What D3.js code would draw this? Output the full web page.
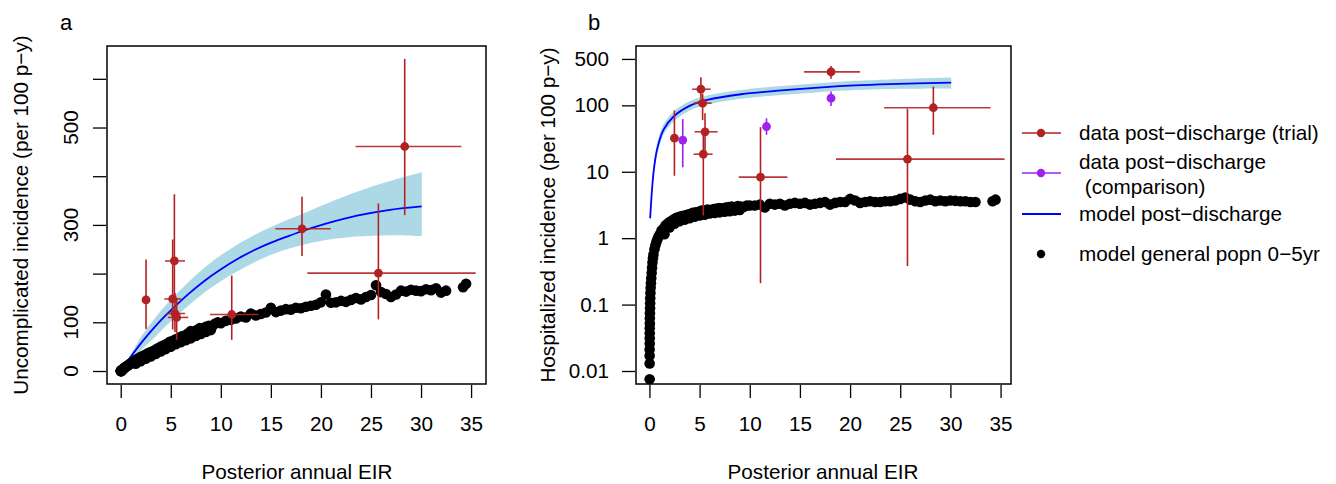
<!DOCTYPE html>
<html>
<head>
<meta charset="utf-8">
<script src="https://cdn.jsdelivr.net/npm/d3@7"></script>
<style>
  body { margin: 0; background: #fff; }
  svg { display: block; font-family: 'Liberation Sans', Arial, sans-serif; }
</style>
</head>
<body>
<div id="chart"></div>
<script>
// model general population 0-5yr (black dots), shared EIR for both panels
const genEIR = [
  0.02, 0.02, 0.02, 0.02, 0.03, 0.03, 0.03, 0.03, 0.04, 0.04, 0.05, 0.06, 0.07, 0.08, 0.1,
  0.12, 0.15, 0.18, 0.22, 0.26, 0.3, 0.35, 0.4, 0.5, 0.6, 0.7, 0.8, 0.9, 1.0,
  1.2, 1.4, 1.6, 1.8, 2.0, 2.25, 2.5, 2.75, 3.0, 3.25, 3.5, 3.75, 4.0, 4.3, 4.6, 4.9, 5.2,
  5.5, 5.8, 6.1, 6.4, 6.7, 7.0, 7.3, 7.6, 7.9, 8.2, 8.5, 8.8, 9.1, 9.4, 9.7, 10.0,
  10.5, 11, 11.5, 12, 12.5, 13, 13.5, 14, 14.5, 15, 15.5, 16, 16.5, 17, 17.5, 18, 18.5, 19,
  19.5, 20, 20.5, 21, 21.5, 22, 22.5, 23, 23.5, 24, 24.5, 25, 25.5, 26, 26.5, 27, 27.5, 28,
  28.5, 29, 29.5, 30, 30.5, 31, 31.5, 32, 32.5, 34.2, 34.5,
  1.5, 2.0, 2.5, 3.0, 3.5, 4.0, 4.5, 5.0, 5.5, 6.0, 6.5, 7.0, 7.5, 8.0, 8.5, 9.0
];
const genUncomp = [
  0, 0, 0, 0, 0, 0, 0, 0, 0, 0, 0.5, 0.5, 1, 1, 1.5,
  2, 2.5, 3, 3.5, 4, 5, 6, 7, 8, 10, 11, 13, 14, 16,
  19, 21, 24, 26, 29, 31, 34, 37, 39, 41, 44, 47, 50, 53, 56, 60, 62,
  65, 68, 71, 73, 77, 82, 80, 84, 88, 86, 91, 93, 90, 97, 100, 98,
  103, 105, 108, 112, 110, 118, 114, 117, 120, 130, 121, 124, 127, 126, 130, 129, 132, 134,
  136, 141, 157, 140, 141, 144, 142, 146, 150, 147, 152, 156, 176, 162, 158, 152, 157, 165,
  163, 167, 165, 164, 168, 166, 170, 161, 165, 172, 179,
  15, 20, 25, 30, 35, 40, 45, 50, 55, 59, 63, 67, 72, 76, 80, 84
];
const genHosp = [
  0.0075, 0.013, 0.017, 0.021, 0.026, 0.031, 0.037, 0.044, 0.052, 0.062, 0.074, 0.088, 0.105, 0.125, 0.15,
  0.18, 0.21, 0.25, 0.3, 0.36, 0.43, 0.5, 0.57, 0.68, 0.78, 0.88, 0.96, 1.05, 1.12,
  1.3, 1.4, 1.55, 1.65, 1.75, 1.85, 1.95, 2.05, 2.1, 2.15, 2.2, 2.25, 2.3, 2.4, 2.45, 2.5, 2.6,
  2.6, 2.7, 2.65, 2.75, 2.8, 2.85, 2.8, 2.9, 2.95, 3.0, 2.9, 3.05, 3.0, 2.95, 3.1, 3.1,
  3.1, 3.2, 2.9, 3.3, 3.2, 3.3, 3.1, 3.3, 3.4, 3.3, 3.4, 3.2, 3.3, 3.4, 3.5, 3.2, 3.4, 3.5,
  3.5, 3.9, 3.7, 3.4, 3.5, 3.6, 3.5, 3.5, 3.6, 3.6, 3.7, 3.9, 4.1, 3.8, 3.6, 3.5, 3.7, 3.8,
  3.6, 3.7, 3.6, 3.7, 3.65, 3.6, 3.6, 3.5, 3.5, 3.6, 3.8,
  1.15, 1.45, 1.65, 1.8, 1.9, 2.0, 2.1, 2.2, 2.25, 2.35, 2.4, 2.45, 2.5, 2.55, 2.6, 2.65
];

// panel a: model post-discharge uncomplicated incidence
const aModelEIR = [0, 1, 1.76, 2.5, 3.43, 4.2, 5.08, 6.75, 8.42, 10.09, 11.75, 13.42, 15.08, 16.75, 18.4, 20.24, 23.6, 26.9, 30.07];
const aModel = [0, 29, 50, 69, 91, 108, 126, 158, 186, 210, 231, 249, 264, 277, 289, 301, 319, 331, 338];
const aModelLo = [0, 22, 37, 52, 70, 86, 103, 134, 162, 186, 206, 224, 239, 251, 260, 268, 276, 279, 277];
const aModelHi = [0, 34, 61, 84, 109, 128, 148, 182, 213, 239, 261, 280, 296, 311, 325, 341, 368, 390, 408];

// panel a: trial data
const aEIR = [2.53, 5.19, 5.36, 5.42, 5.59, 11.09, 18.11, 25.74, 28.37];
const aEIRLo = [2.53, 4.36, 4.43, 4.6, 4.7, 8.92, 15.45, 18.64, 23.47];
const aEIRHi = [2.53, 6.03, 6.42, 6.42, 6.75, 13.75, 20.98, 35.46, 34.03];
const aInc = [146, 148, 226, 118, 110, 116, 292, 201, 461];
const aIncLo = [86, 85, 150, 80, 64, 64, 236, 106, 320];
const aIncHi = [229, 270, 363, 160, 150, 196, 358, 344, 641];

// panel b: model post-discharge hospitalized incidence
const bModelEIR = [0.07, 0.4, 0.74, 1.41, 2.41, 4.1, 5.77, 9.12, 13.15, 17.2, 20.5, 23.9, 30.08];
const bModel = [2.0, 9.5, 21, 43, 68, 100, 121, 147, 168, 187, 200, 209, 220];
const bModelLo = [1.6, 7.8, 17, 36, 57, 85, 103, 126, 143, 159, 170, 177, 180];
const bModelHi = [2.5, 11.5, 26, 52, 81, 117, 141, 171, 195, 218, 234, 246, 263];

// panel b: trial data
const bEIR = [2.49, 5.13, 5.3, 5.54, 5.37, 11.07, 18.1, 25.72, 28.3];
const bEIRLo = [2.49, 4.26, 4.4, 4.5, 4.4, 8.9, 15.4, 18.6, 23.4];
const bEIRHi = [2.49, 6.1, 6.2, 6.8, 6.3, 13.75, 21.0, 35.4, 34.0];
const bHosp = [32, 175, 108, 40, 18.4, 8.3, 319, 15.5, 92];
const bHospLo = [8.7, 126, 60, 16, 2.2, 0.21, 251, 0.38, 36];
const bHospHi = [84, 265, 150, 76, 40, 47, 391, 89, 192];

// panel b: comparison data
const cEIR = [3.32, 11.67, 18.1];
const cHosp = [30, 48, 128];
const cHospLo = [11.7, 36, 98];
const cHospHi = [62, 64, 162];

const xTicks = [0, 5, 10, 15, 20, 25, 30, 35];
const aYTicks = [0, 100, 200, 300, 400, 500, 600];
const aYLabels = [0, 100, 300, 500];
const bYTicks = [0.01, 0.1, 1, 10, 100, 500];
const bYLabels = ['0.01', '0.1', '1', '10', '100', '500'];

const legendLabels = [
  ['data post\u2212discharge (trial)'],
  ['data post\u2212discharge', ' (comparison)'],
  ['model post\u2212discharge'],
  ['model general popn 0\u22125yr']
];

const red = '#B22222';
const purple = '#A020F0';
const blue = '#0000FF';
const ribbon = '#ADD8E6';
const fontSize = 20.7;

const width = 1336;
const height = 484;

const svg = d3
  .select('#chart')
  .append('svg')
  .attr('width', width)
  .attr('height', height);

const xScaleA = d3.scaleLinear().domain([-1.37, 36.49]).range([107, 486]);
const yScaleA = d3.scaleLinear().domain([-26.7, 667.4]).range([384, 46]);
const xScaleB = d3.scaleLinear().domain([-1.34, 36.04]).range([636, 1011]);
const yScaleB = d3.scaleLog().domain([0.00637, 783]).range([384, 46]);

function zipRows(xs, ys, lo, hi, xlo, xhi) {
  return xs.map((x, i) => ({
    x: x,
    y: ys[i],
    lo: lo ? lo[i] : null,
    hi: hi ? hi[i] : null,
    xlo: xlo ? xlo[i] : null,
    xhi: xhi ? xhi[i] : null
  }));
}

function drawModel(xScale, yScale, xs, mid, lo, hi) {
  const rows = zipRows(xs, mid, lo, hi);
  const area = d3
    .area()
    .x((d) => xScale(d.x))
    .y0((d) => yScale(d.lo))
    .y1((d) => yScale(d.hi))
    .curve(d3.curveCatmullRom);
  const line = d3
    .line()
    .x((d) => xScale(d.x))
    .y((d) => yScale(d.y))
    .curve(d3.curveCatmullRom);
  svg.append('path').datum(rows).attr('d', area).attr('fill', ribbon);
  svg
    .append('path')
    .datum(rows)
    .attr('d', line)
    .attr('fill', 'none')
    .attr('stroke', blue)
    .attr('stroke-width', 1.8);
}

function drawGeneral(xScale, yScale, ys) {
  svg
    .append('g')
    .selectAll('circle')
    .data(zipRows(genEIR, ys))
    .enter()
    .append('circle')
    .attr('cx', (d) => xScale(d.x))
    .attr('cy', (d) => yScale(d.y))
    .attr('r', 5.3)
    .attr('fill', '#000');
}

function drawData(xScale, yScale, rows, color) {
  const g = svg.append('g');
  g.selectAll('line.v')
    .data(rows)
    .enter()
    .append('line')
    .attr('x1', (d) => xScale(d.x))
    .attr('x2', (d) => xScale(d.x))
    .attr('y1', (d) => yScale(d.lo))
    .attr('y2', (d) => yScale(d.hi))
    .attr('stroke', color)
    .attr('stroke-width', 1.6);
  g.selectAll('line.h')
    .data(rows.filter((d) => d.xlo != null && d.xlo !== d.xhi))
    .enter()
    .append('line')
    .attr('x1', (d) => xScale(d.xlo))
    .attr('x2', (d) => xScale(d.xhi))
    .attr('y1', (d) => yScale(d.y))
    .attr('y2', (d) => yScale(d.y))
    .attr('stroke', color)
    .attr('stroke-opacity', 0.9)
    .attr('stroke-width', 1.6);
  g.selectAll('circle')
    .data(rows)
    .enter()
    .append('circle')
    .attr('cx', (d) => xScale(d.x))
    .attr('cy', (d) => yScale(d.y))
    .attr('r', 4.4)
    .attr('fill', color);
}

function styleText(sel) {
  return sel
    .attr('font-size', fontSize)
    .attr('font-family', "'Liberation Sans', Arial, sans-serif")
    .attr('fill', '#000');
}

function drawFrame(xScale, yScale) {
  const x0 = xScale.range()[0];
  const x1 = xScale.range()[1];
  const y0 = yScale.range()[1];
  const y1 = yScale.range()[0];
  svg
    .append('rect')
    .attr('x', x0)
    .attr('y', y0)
    .attr('width', x1 - x0)
    .attr('height', y1 - y0)
    .attr('fill', 'none')
    .attr('stroke', '#000')
    .attr('stroke-width', 1.5);

  const xAxis = svg
    .append('g')
    .attr('transform', `translate(0, ${y1 + 1})`)
    .call(
      d3.axisBottom(xScale).tickValues(xTicks).tickSize(13).tickPadding(18)
    );
  xAxis.select('.domain').remove();
  xAxis.selectAll('line').attr('stroke-width', 1.3);
  styleText(xAxis.selectAll('text'));
}

// ---- panel a ----
drawModel(xScaleA, yScaleA, aModelEIR, aModel, aModelLo, aModelHi);
drawGeneral(xScaleA, yScaleA, genUncomp);
drawData(
  xScaleA,
  yScaleA,
  zipRows(aEIR, aInc, aIncLo, aIncHi, aEIRLo, aEIRHi),
  red
);
drawFrame(xScaleA, yScaleA);

const aYAxis = svg
  .append('g')
  .attr('transform', 'translate(106, 0)')
  .call(d3.axisLeft(yScaleA).tickValues(aYTicks).tickSize(13).tickFormat(''));
aYAxis.select('.domain').remove();
aYAxis.selectAll('line').attr('stroke-width', 1.3);

styleText(
  svg
    .append('g')
    .selectAll('text')
    .data(aYLabels)
    .enter()
    .append('text')
    .attr('transform', (d) => `translate(78, ${yScaleA(d)}) rotate(-90)`)
    .attr('text-anchor', 'middle')
    .text((d) => d)
);

styleText(
  svg
    .append('text')
    .attr('transform', 'translate(28, 215) rotate(-90)')
    .attr('text-anchor', 'middle')
    .text('Uncomplicated incidence (per 100 p\u2212y)')
);
styleText(
  svg
    .append('text')
    .attr('x', 297)
    .attr('y', 479)
    .attr('text-anchor', 'middle')
    .text('Posterior annual EIR')
);
styleText(svg.append('text').attr('x', 60).attr('y', 30).text('a')).attr(
  'font-size',
  22
);

// ---- panel b ----
drawModel(xScaleB, yScaleB, bModelEIR, bModel, bModelLo, bModelHi);
drawGeneral(xScaleB, yScaleB, genHosp);
drawData(
  xScaleB,
  yScaleB,
  zipRows(cEIR, cHosp, cHospLo, cHospHi),
  purple
);
drawData(
  xScaleB,
  yScaleB,
  zipRows(bEIR, bHosp, bHospLo, bHospHi, bEIRLo, bEIRHi),
  red
);
drawFrame(xScaleB, yScaleB);

const bYAxis = svg
  .append('g')
  .attr('transform', 'translate(635, 0)')
  .call(
    d3
      .axisLeft(yScaleB)
      .tickValues(bYTicks)
      .tickSize(13)
      .tickPadding(13)
      .tickFormat((d, i) => bYLabels[i])
  );
bYAxis.select('.domain').remove();
bYAxis.selectAll('line').attr('stroke-width', 1.3);
styleText(bYAxis.selectAll('text'));

styleText(
  svg
    .append('text')
    .attr('transform', 'translate(555, 215) rotate(-90)')
    .attr('text-anchor', 'middle')
    .text('Hospitalized incidence (per 100 p\u2212y)')
);
styleText(
  svg
    .append('text')
    .attr('x', 823)
    .attr('y', 479)
    .attr('text-anchor', 'middle')
    .text('Posterior annual EIR')
);
styleText(svg.append('text').attr('x', 588).attr('y', 30).text('b')).attr(
  'font-size',
  22
);

// ---- legend ----
const legendY = [133, 173, 214, 254];
const legend = svg.append('g');

[red, purple].forEach(function (c, i) {
  legend
    .append('line')
    .attr('x1', 1022)
    .attr('x2', 1061)
    .attr('y1', legendY[i])
    .attr('y2', legendY[i])
    .attr('stroke', c)
    .attr('stroke-width', 1.6);
  legend
    .append('circle')
    .attr('cx', 1041)
    .attr('cy', legendY[i])
    .attr('r', 4.2)
    .attr('fill', c);
});
legend
  .append('line')
  .attr('x1', 1022)
  .attr('x2', 1061)
  .attr('y1', legendY[2])
  .attr('y2', legendY[2])
  .attr('stroke', blue)
  .attr('stroke-width', 1.8);
legend
  .append('circle')
  .attr('cx', 1041)
  .attr('cy', legendY[3])
  .attr('r', 4.2)
  .attr('fill', '#000');

legendLabels.forEach(function (lines, i) {
  const top = lines.length > 1 ? legendY[i] - 11 : legendY[i];
  lines.forEach(function (t, j) {
    styleText(
      legend
        .append('text')
        .attr('x', 1079)
        .attr('y', top + j * 25)
        .attr('dy', '0.35em')
        .style('white-space', 'pre')
        .text(t)
    );
  });
});
</script>
</body>
</html>
